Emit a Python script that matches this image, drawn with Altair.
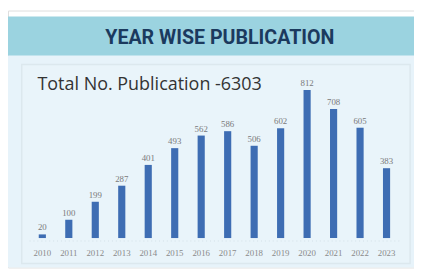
import altair as alt
import pandas as pd

years = ["2010", "2011", "2012", "2013", "2014", "2015", "2016",
         "2017", "2018", "2019", "2020", "2021", "2022", "2023"]
pubs = [20, 100, 199, 287, 401, 493, 562, 586, 506, 602, 812, 708, 605, 383]
title_text = "YEAR WISE PUBLICATION"
total_text = "Total No. Publication -6303"

df = pd.DataFrame({"year": years, "pubs": pubs})

W, H = 414, 262
xscale = alt.Scale(domain=years, range=[21.5, 399.5], paddingInner=0.73, paddingOuter=0.365)
yscale = alt.Scale(domain=[0, 812], range=[232, 81], nice=False, zero=True)

one = pd.DataFrame({"a": [0]})

band = alt.Chart(one).mark_rect(color="#9BD3E0").encode(
    x=alt.value(0), x2=alt.value(W), y=alt.value(6), y2=alt.value(46))
light = alt.Chart(one).mark_rect(color="#E7F3FA").encode(
    x=alt.value(0), x2=alt.value(W), y=alt.value(46), y2=alt.value(H))
inner = alt.Chart(one).mark_rect(color="#E9F4FA", stroke="#DCE8EE", strokeWidth=1.5).encode(
    x=alt.value(14), x2=alt.value(410), y=alt.value(55), y2=alt.value(258))
baseline = alt.Chart(one).mark_rule(color="#D3E0E8", strokeDash=[1, 3], strokeWidth=1).encode(
    x=alt.value(22), x2=alt.value(400), y=alt.value(235))
title = alt.Chart(one).mark_text(
    text=title_text, font="Roboto", fontWeight="bold", fontSize=20,
    color="#1B3A5E", align="center", baseline="middle").encode(
    x=alt.value(216), y=alt.value(28))
total = alt.Chart(one).mark_text(
    text=total_text, font="Open Sans", fontSize=18.3, color="#333333",
    align="left", baseline="alphabetic").encode(
    x=alt.value(30), y=alt.value(81))

bars = alt.Chart(df).mark_bar(color="#3E6DB3").encode(
    x=alt.X("year:N", scale=xscale, axis=None),
    y=alt.Y("pubs:Q", scale=yscale, axis=None),
    y2=alt.datum(0))
vals = alt.Chart(df).mark_text(
    font="Liberation Serif", fontSize=9, color="#7A7A7A", dy=-7, baseline="middle").encode(
    x=alt.X("year:N", scale=xscale, axis=None),
    y=alt.Y("pubs:Q", scale=yscale, axis=None),
    text="pubs:Q")
xlabels = alt.Chart(df).mark_text(
    font="Liberation Serif", fontSize=9, color="#8A8A8A", baseline="middle").encode(
    x=alt.X("year:N", scale=xscale, axis=None),
    y=alt.value(247),
    text="year:N")

chart = alt.layer(band, light, inner, baseline, title, total, bars, vals, xlabels).properties(
    width=W, height=H, autosize=alt.AutoSizeParams(type="none"), padding=0
).configure_view(stroke=None).configure(background="white")

chart.save("out.html", embed_options={"renderer": "svg", "actions": False})
